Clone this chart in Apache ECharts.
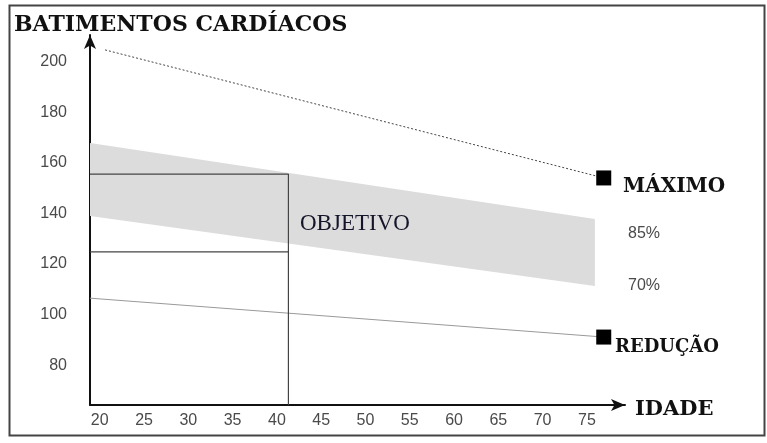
<!DOCTYPE html>
<html>
<head>
<meta charset="UTF-8">
<title>Batimentos cardíacos</title>
<script src="https://cdn.jsdelivr.net/npm/echarts@6/dist/echarts.min.js"></script>
<style>
  html, body { margin: 0; padding: 0; background: #fff; }
  #chart { width: 767px; height: 443px; }
</style>
</head>
<body>
<div id="chart"></div>
<script>
// idade (eixo x) e batimentos (eixo y)
var ages = [20, 25, 30, 35, 40, 45, 50, 55, 60, 65, 70, 75];
var bpmTicks = [80, 100, 120, 140, 160, 180, 200];

// linhas [idade, batimentos]
var maxLine = [[20.6, 204.8], [76.9, 154.1]];
var bandTop = [[18.9, 167.9], [75.9, 137.8]];     // 85%
var bandBottom = [[18.9, 139.0], [75.9, 111.3]];  // 70%
var redLine = [[18.9, 106.5], [76.9, 91.1]];
var objTop = [[18.9, 155.6], [41.3, 155.6], [41.3, 64.2]];
var objMid = [[18.9, 124.8], [41.3, 124.8]];
var markers = [[76.9, 154.1], [76.9, 91.1]];

var chart = echarts.init(document.getElementById('chart'));

var serifBold = { fontFamily: 'DejaVu Serif', fontWeight: 'bold', fill: '#111', verticalAlign: 'middle' };
var tickFont = { color: '#4a4a4a', fontFamily: 'Liberation Sans', fontSize: 16 };

chart.setOption({
  animation: false,
  grid: { left: 90, right: 142, top: 35, bottom: 38 },
  xAxis: {
    type: 'value', min: 18.9, max: 79.3,
    splitLine: { show: false },
    axisTick: { show: false },
    axisLine: { lineStyle: { color: '#111', width: 2 }, symbol: ['none', 'arrow'], symbolSize: [9, 14] },
    axisLabel: Object.assign({ customValues: ages, margin: 8 }, tickFont)
  },
  yAxis: {
    type: 'value', min: 64.2, max: 210.7,
    splitLine: { show: false },
    axisTick: { show: false },
    axisLine: { show: true, lineStyle: { color: '#111', width: 2 }, symbol: ['none', 'arrow'], symbolSize: [9, 14] },
    axisLabel: Object.assign({ customValues: bpmTicks, margin: 23 }, tickFont)
  },
  series: [
    {
      type: 'custom', z: 1, silent: true,
      data: [0],
      renderItem: function (params, api) {
        var pts = bandTop.concat(bandBottom.slice().reverse()).map(function (p) { return api.coord(p); });
        return { type: 'polygon', shape: { points: pts }, style: { fill: '#dcdcdc' } };
      }
    },
    {
      type: 'line', data: maxLine, symbol: 'none', z: 3,
      lineStyle: { color: '#444', width: 1, type: [2, 2] }
    },
    {
      type: 'line', data: redLine, symbol: 'none', z: 3,
      lineStyle: { color: '#999', width: 1 }
    },
    {
      type: 'line', data: objTop, symbol: 'none', z: 3,
      lineStyle: { color: '#444', width: 1.2 }
    },
    {
      type: 'line', data: objMid, symbol: 'none', z: 3,
      lineStyle: { color: '#444', width: 1.2 }
    },
    {
      type: 'scatter', data: markers, symbol: 'rect', symbolSize: 15, z: 4,
      itemStyle: { color: '#000', opacity: 1 }
    }
  ],
  graphic: [
    { type: 'rect', z: 10, shape: { x: 9.5, y: 5.5, width: 755, height: 430 }, style: { fill: 'none', stroke: '#444', lineWidth: 2 } },
    { type: 'text', z: 10, x: 14, y: 25, style: Object.assign({ text: 'BATIMENTOS CARDÍACOS', fontSize: 22 }, serifBold) },
    { type: 'text', z: 10, x: 623, y: 187, style: Object.assign({ text: 'MÁXIMO', fontSize: 20 }, serifBold) },
    { type: 'text', z: 10, x: 615, y: 347, style: Object.assign({ text: 'REDUÇÃO', fontSize: 18 }, serifBold) },
    { type: 'text', z: 10, x: 635, y: 410, style: Object.assign({ text: 'IDADE', fontSize: 21 }, serifBold) },
    { type: 'text', z: 10, x: 300, y: 224, style: { text: 'OBJETIVO', fontFamily: 'Liberation Serif', fontSize: 23, fill: '#15152a', verticalAlign: 'middle' } },
    { type: 'text', z: 10, x: 628, y: 234, style: { text: '85%', fontFamily: 'Liberation Sans', fontSize: 16, fill: '#4a4a4a', verticalAlign: 'middle' } },
    { type: 'text', z: 10, x: 628, y: 286, style: { text: '70%', fontFamily: 'Liberation Sans', fontSize: 16, fill: '#4a4a4a', verticalAlign: 'middle' } }
  ]
});
</script>
</body>
</html>
